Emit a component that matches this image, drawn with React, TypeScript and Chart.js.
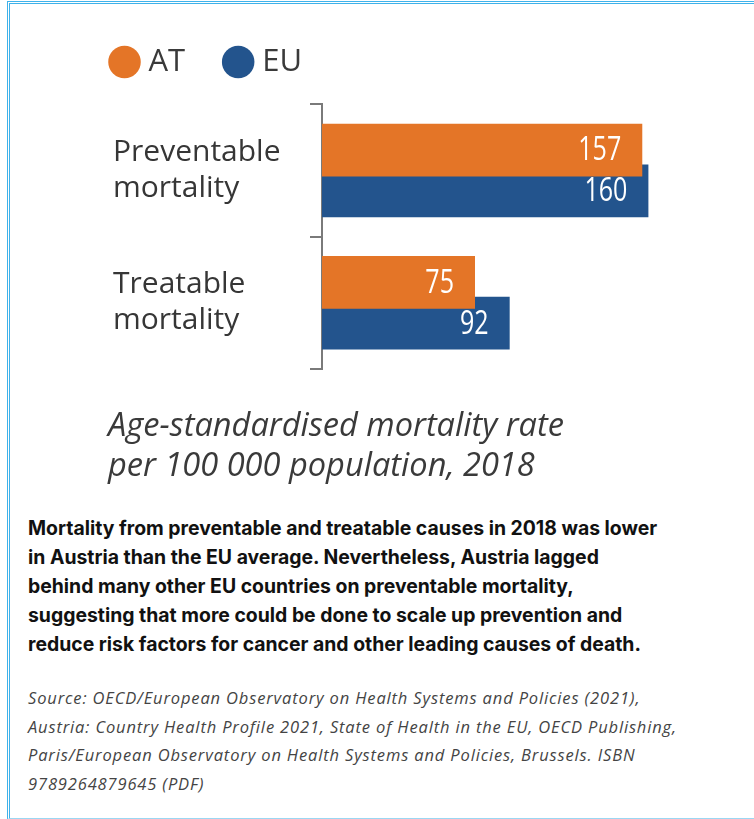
import React, { useEffect, useRef } from "react";
import { Chart, registerables } from "chart.js";

Chart.register(...registerables);

// ---- data ----
const categories: string[][] = [
  ["Preventable", "mortality"],
  ["Treatable", "mortality"],
];
const seriesNames: string[] = ["AT", "EU"];
const atValues: number[] = [157, 75];
const euValues: number[] = [160, 92];
const seriesColors: string[] = ["#E47527", "#23548D"];
const axisTitleLines: string[] = [
  "Age-standardised mortality rate",
  "per 100 000 population, 2018",
];
const captionLines: string[] = [
  "Mortality from preventable and treatable causes in 2018 was lower",
  "in Austria than the EU average. Nevertheless, Austria lagged",
  "behind many other EU countries on preventable mortality,",
  "suggesting that more could be done to scale up prevention and",
  "reduce risk factors for cancer and other leading causes of death.",
];
const sourceLines: string[] = [
  "Source: OECD/European Observatory on Health Systems and Policies (2021),",
  "Austria: Country Health Profile 2021, State of Health in the EU, OECD Publishing,",
  "Paris/European Observatory on Health Systems and Policies, Brussels. ISBN",
  "9789264879645 (PDF)",
];

const HUMAN = '"Open Sans", "Noto Sans", sans-serif';

const valueLabels = {
  id: "valueLabels",
  afterDatasetsDraw(chart: any) {
    const ctx = chart.ctx;
    chart.data.datasets.forEach((ds: any, i: number) => {
      const meta = chart.getDatasetMeta(i);
      meta.data.forEach((el: any, j: number) => {
        ctx.save();
        ctx.fillStyle = "#ffffff";
        ctx.font = `33px ${HUMAN}`;
        ctx.textAlign = "right";
        ctx.textBaseline = "middle";
        ctx.translate(el.x - 21, el.y + 1);
        ctx.scale(0.76, 1);
        ctx.fillText(String(ds.data[j]), 0, 0);
        ctx.restore();
      });
    });
  },
};

function BarChart() {
  const ref = useRef<HTMLCanvasElement | null>(null);
  useEffect(() => {
    if (!ref.current) return;
    const chart = new Chart(ref.current, {
      type: "bar",
      data: {
        labels: categories as any,
        datasets: [
          {
            label: seriesNames[0],
            data: atValues,
            xAxisID: "x",
            yAxisID: "y",
            backgroundColor: seriesColors[0],
            borderWidth: 0,
            categoryPercentage: 0.616,
            barPercentage: 1.295,
          },
          {
            label: seriesNames[1],
            data: euValues,
            xAxisID: "x",
            yAxisID: "y",
            backgroundColor: seriesColors[1],
            borderWidth: 0,
            categoryPercentage: 0.616,
            barPercentage: 1.295,
          },
        ],
      },
      options: {
        indexAxis: "y",
        animation: false,
        responsive: true,
        maintainAspectRatio: false,
        layout: { padding: { left: 71.5, right: 24, top: 0, bottom: 0 } },
        plugins: {
          tooltip: { enabled: false },
          legend: {
            display: true,
            position: "top",
            align: "start",
            labels: {
              usePointStyle: true,
              pointStyle: "circle",
              boxWidth: 17,
              boxHeight: 23,
              padding: 44.5,
              color: "#3a3a3a",
              font: { family: HUMAN, size: 31 },
            },
          },
        },
        scales: {
          y: {
            type: "category",
            position: "left",
            weight: 0,
            ticks: {
              crossAlign: "far",
              autoSkip: false,
              color: "#363636",
              font: { family: HUMAN, size: 30, lineHeight: 1.2 },
            },
            grid: {
              display: true,
              drawOnChartArea: false,
              drawTicks: true,
              tickLength: 12,
              color: "#7a7a7a",
              lineWidth: 2,
            },
            border: { display: true, color: "#7a7a7a", width: 2 },
            afterFit(s: any) {
              s.width = 209;
            },
          },
          x: {
            type: "linear",
            position: "top",
            min: 0,
            max: 200,
            display: true,
            ticks: { display: false },
            grid: { display: false },
            border: { display: false },
            afterFit(s: any) {
              s.height = 16.8;
            },
          },
          ySpacer: {
            type: "linear",
            position: "left",
            weight: 10,
            display: true,
            ticks: { display: false },
            grid: { display: false },
            border: { display: false },
            afterFit(s: any) {
              s.width = 41.5;
            },
          },
        },
      } as any,
      plugins: [valueLabels],
    });
    return () => chart.destroy();
  }, []);
  return (
    <div style={{ position: "absolute", left: 0, top: 1.7, width: 754, height: 406 }}>
      <canvas ref={ref} />
    </div>
  );
}

export default function App() {
  return (
    <div
      style={{
        position: "absolute",
        left: 0,
        top: 0,
        width: 754,
        height: 819,
        overflow: "hidden",
        background: "#ffffff",
      }}
    >
      <div
        style={{
          position: "absolute",
          left: 7,
          top: 1,
          width: 747,
          height: 818,
          boxSizing: "border-box",
          borderTop: "3px double #3FB2EA",
          borderLeft: "3px double #3FB2EA",
          borderBottom: "1px solid #9BD7F3",
        }}
      />
      <BarChart />
      <div
        style={{
          position: "absolute",
          left: 108,
          top: 404,
          fontFamily: HUMAN,
          fontStyle: "italic",
          fontSize: 32.6,
          lineHeight: "40px",
          color: "#3a3a3a",
          whiteSpace: "nowrap",
        }}
      >
        {axisTitleLines.map((l, i) => (
          <div key={i}>{l}</div>
        ))}
      </div>
      <div
        style={{
          position: "absolute",
          left: 28,
          top: 514,
          fontFamily: '"Inter", "Lato", sans-serif',
          fontWeight: 700,
          fontSize: 19.4,
          lineHeight: "29px",
          color: "#111111",
          whiteSpace: "nowrap",
        }}
      >
        {captionLines.map((l, i) => (
          <div key={i}>{l}</div>
        ))}
      </div>
      <div
        style={{
          position: "absolute",
          left: 28,
          top: 684,
          fontFamily: HUMAN,
          fontStyle: "italic",
          fontSize: 16.5,
          letterSpacing: 0.85,
          lineHeight: "28.5px",
          color: "#444444",
          whiteSpace: "nowrap",
        }}
      >
        {sourceLines.map((l, i) => (
          <div key={i}>{l}</div>
        ))}
      </div>
    </div>
  );
}
